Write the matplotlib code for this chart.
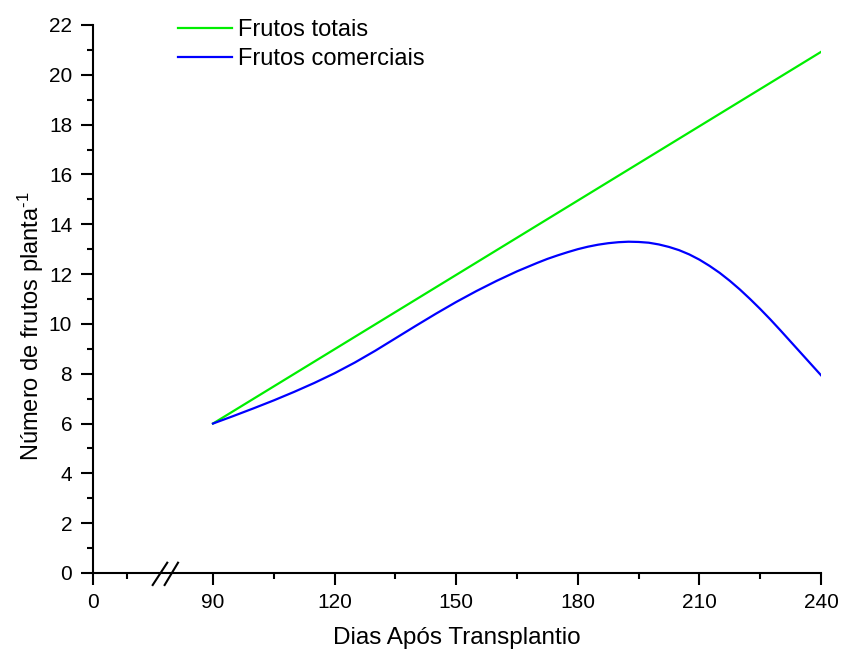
import numpy as np
import matplotlib
matplotlib.use("Agg")
import matplotlib.pyplot as plt

plt.rcParams['font.family'] = ['Liberation Sans', 'DejaVu Sans']
plt.rcParams['mathtext.fontset'] = 'custom'
plt.rcParams['mathtext.rm'] = 'Liberation Sans'
plt.rcParams['mathtext.it'] = 'Liberation Sans'
plt.rcParams['mathtext.bf'] = 'Liberation Sans'

# ---- data ----
dias_totais = [90, 240]
frutos_totais = [6.0, 20.92]

dias_comerciais = [90, 95, 100, 105, 110, 115, 120, 125, 130, 135, 140, 145, 150,
                   155, 160, 165, 170, 172.5, 175, 177.5, 180, 182.5, 185, 187.5,
                   190, 192.5, 195, 197.5, 200, 202.5, 205, 207.5, 210, 212.5,
                   215, 217.5, 220, 222.5, 225, 227.5, 230, 232.5, 235, 237.5, 240]
frutos_comerciais = [6.00, 6.30, 6.61, 6.93, 7.27, 7.63, 8.02, 8.45, 8.92, 9.42,
                     9.92, 10.41, 10.88, 11.32, 11.73, 12.11, 12.45, 12.61, 12.75,
                     12.88, 13.00, 13.10, 13.18, 13.24, 13.28, 13.30, 13.29, 13.26,
                     13.19, 13.09, 12.96, 12.79, 12.58, 12.33, 12.05, 11.73, 11.38,
                     11.00, 10.60, 10.18, 9.74, 9.29, 8.84, 8.39, 7.94]

x_major = [0, 90, 120, 150, 180, 210, 240]
x_minor = [15, 105, 135, 165, 195, 225]
y_major = list(range(0, 23, 2))
y_minor = list(range(1, 22, 2))

labels = ["Frutos totais", "Frutos comerciais"]
colors = ["#00ee00", "#0000ff"]

# ---- broken-axis scale (compressed left segment) ----
_xk = np.array([0.0, 45.0, 90.0, 240.0])
_pk = np.array([0.0, 25.16, 29.6, 179.6])

def fwd(x):
    return np.interp(np.asarray(x, dtype=float), _xk, _pk)

def inv(p):
    return np.interp(np.asarray(p, dtype=float), _pk, _xk)

fig = plt.figure(figsize=(8.41, 6.55), dpi=100)
ax = fig.add_axes([93/841, 82/655, 728/841, 548/655])
ax.set_xscale('function', functions=(fwd, inv))

ax.plot(dias_totais, frutos_totais, color=colors[0], lw=1.6, label=labels[0])
ax.plot(dias_comerciais, frutos_comerciais, color=colors[1], lw=1.6, label=labels[1])

ax.set_xlim(0, 240)
ax.set_ylim(0, 22)
ax.set_xticks(x_major)
ax.set_xticks(x_minor, minor=True)
ax.set_yticks(y_major)
ax.set_yticks(y_minor, minor=True)
ax.set_xticklabels([str(v) for v in x_major])
ax.set_yticklabels([str(v) for v in y_major])

for s in ['top', 'right']:
    ax.spines[s].set_visible(False)
for s in ['left', 'bottom']:
    ax.spines[s].set_linewidth(1.5)

ax.tick_params(which='major', direction='out', length=8.5, width=1.5, labelsize=15, pad=6)
ax.tick_params(axis='y', which='major', pad=6.5)
ax.tick_params(which='minor', direction='out', length=4.5, width=1.5)

ax.set_xlabel("Dias Após Transplantio", fontsize=17.5)
ax.xaxis.set_label_coords(0.5, -0.099)
ax.set_ylabel(r"Número de frutos planta$^{\text{-1}}$", fontsize=17)
ax.yaxis.set_label_coords(-0.064, 0.451)

# break marks
for x0, x1 in [(0.082, 0.102), (0.0984, 0.1168)]:
    ax.plot([x0, x1], [-0.0219, 0.0188], transform=ax.transAxes, color='black',
            lw=1.5, clip_on=False)

ax.legend(loc='upper left', bbox_to_anchor=(0.117, 1.011), frameon=False,
          fontsize=17, handlelength=2.3, handletextpad=0.25, borderpad=0,
          borderaxespad=0, labelspacing=0.29)

fig.savefig("out.png", dpi=100)
